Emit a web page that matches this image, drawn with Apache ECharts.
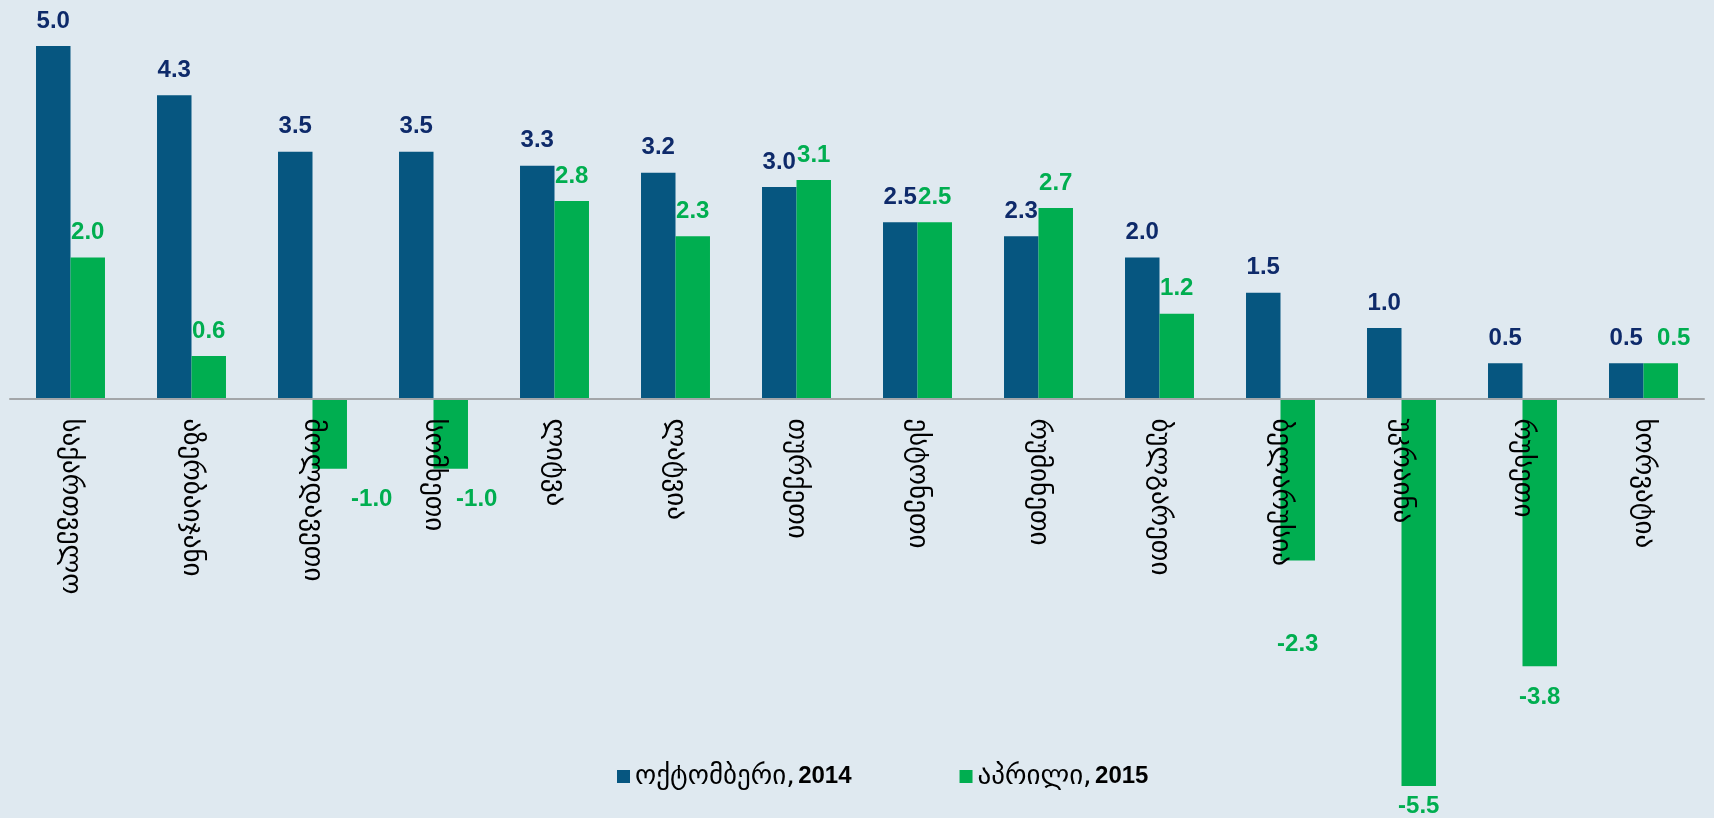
<!DOCTYPE html>
<html>
<head>
<meta charset="utf-8">
<script src="https://cdn.jsdelivr.net/npm/echarts@6/dist/echarts.min.js"></script>
<style>
  html, body { margin: 0; padding: 0; background: #dfe9f0; }
  #chart { width: 1714px; height: 818px; }
</style>
</head>
<body>
<div id="chart"></div>
<script>
const countries = [
  "საქართველო", "აზერბაიჯანი", "მოლდავეთი", "სომხეთი", "ლიტვა", "ლატვია", "თურქეთი",
  "ესტონეთი", "რუმინეთი", "ბულგარეთი", "ბელარუსია", "უკრაინა", "რუსეთი", "ხორვატია"
];
const oct2014 = [5.0, 4.3, 3.5, 3.5, 3.3, 3.2, 3.0, 2.5, 2.3, 2.0, 1.5, 1.0, 0.5, 0.5];
const apr2015 = [2.0, 0.6, -1.0, -1.0, 2.8, 2.3, 3.1, 2.5, 2.7, 1.2, -2.3, -5.5, -3.8, 0.5];
const seriesNames = ["ოქტომბერი, 2014", "აპრილი, 2015"];
const yMin = -5.5, yMax = 5;

// manual label nudges, like in the original
const greenLabelOffset = { 2: [42, 0], 3: [26, 0], 10: [0, 53], 11: [0, -11], 13: [13, 0] };

const valueFont = { fontFamily: "Liberation Sans, Arial", fontWeight: "bold", fontSize: 24 };

const gridTop = 46, gridBottom = 32;
const gridHeight = 818 - gridTop - gridBottom;
// move the category axis up to the zero line
const zeroOffset = -gridHeight * (0 - yMin) / (yMax - yMin);

var chart = echarts.init(document.getElementById("chart"));
const option = {
  backgroundColor: "#dfe9f0",
  animation: false,
  legend: {
    left: 612,
    top: 758,
    itemWidth: 13,
    itemHeight: 13,
    itemGap: 108,
    icon: "rect",
    formatter: function (name) {
      const parts = name.split(", ");
      return "{g|" + parts[0] + ",} {b|" + parts[1] + "}";
    },
    textStyle: {
      color: "#000",
      rich: {
        g: { fontSize: 27, color: "#000", fontFamily: "DejaVu Sans" },
        b: { fontSize: 24, fontWeight: "bold", color: "#000", fontFamily: "Liberation Sans, Arial" },
      },
    },
    data: seriesNames,
  },
  grid: { left: 10, right: 10, top: gridTop, bottom: gridBottom, containLabel: false, outerBoundsMode: "none" },
  xAxis: {
    type: "category",
    data: countries,
    offset: zeroOffset,
    z: 10,
    axisLine: { onZero: false, lineStyle: { color: "#a3a6a9", width: 2 } },
    axisTick: { show: false },
    axisLabel: {
      rotate: -90,
      margin: 20,
      interval: 0,
      color: "#000",
      fontSize: 27,
      fontFamily: "DejaVu Sans",
    },
  },
  yAxis: {
    type: "value",
    min: yMin,
    max: yMax,
    show: false,
    splitLine: { show: false },
  },
  series: [
    {
      name: seriesNames[0],
      type: "bar",
      data: oct2014,
      barGap: "0%",
      barCategoryGap: "43%",
      itemStyle: { color: "#065680" },
      label: {
        show: true,
        position: "top",
        distance: 13,
        color: "#0e2a6a",
        formatter: (p) => p.value.toFixed(1),
        ...valueFont,
      },
    },
    {
      name: seriesNames[1],
      type: "bar",
      data: apr2015.map((v, i) => ({
        value: v,
        label: {
          position: v < 0 ? "bottom" : "top",
          distance: v < 0 ? 19 : 13,
          offset: greenLabelOffset[i] || [0, 0],
        },
      })),
      itemStyle: { color: "#00ae50" },
      label: {
        show: true,
        color: "#00ae50",
        formatter: (p) => p.value.toFixed(1),
        ...valueFont,
      },
    },
  ],
};
chart.setOption(option);
</script>
</body>
</html>
